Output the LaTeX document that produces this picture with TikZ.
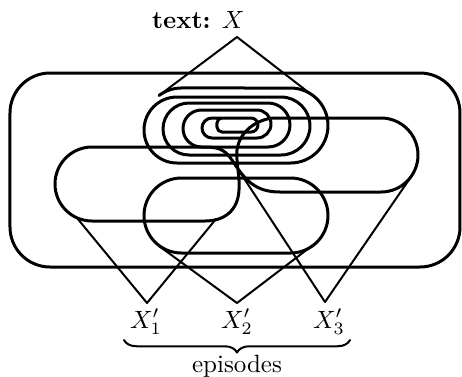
\documentclass[tikz,border=0pt]{standalone}
\usetikzlibrary{decorations.pathreplacing}
\begin{document}
\begin{tikzpicture}[x=0.4pt,y=0.4pt,line join=round,line cap=round,
  curve/.style={line width=1.2pt},
  cone/.style={line width=0.8pt},
  lbl/.style={inner sep=0pt,anchor=base},
  bracestyle/.style={line width=0.8pt,decorate,decoration={brace,mirror,amplitude=5pt}}]
\useasboundingbox (0,0) rectangle (462,376);

% outer frame
\draw[curve,rounded corners=16pt] (10,109) rectangle (460,303);

% spiral
\draw[curve] (159,280.5) arc[start angle=126.9,end angle=90,radius=37.5]
 -- (290.5,288) arc[start angle=90,end angle=-90,radius=37.5]
 -- (177,213) arc[start angle=-90,end angle=-270,radius=33]
 -- (281,279) arc[start angle=90,end angle=-90,radius=29]
 -- (189,221) arc[start angle=-90,end angle=-270,radius=26]
 -- (268,273) arc[start angle=90,end angle=-90,radius=22]
 -- (201.5,229) arc[start angle=-90,end angle=-270,radius=18.5]
 -- (257,266) arc[start angle=90,end angle=-90,radius=14]
 -- (212,238) arc[start angle=-90,end angle=-270,radius=10]
 -- (251,258) arc[start angle=90,end angle=-90,radius=7]
 -- (222,244) arc[start angle=-90,end angle=-180,radius=5]
 -- (217,253) arc[start angle=180,end angle=90,radius=5];

% left and right episodes (one twisted closed curve)
\draw[curve] (92,229) -- (205,229) .. controls (222,229) and (226,224) .. (232,216)
  .. controls (245,196) and (255,184) .. (280,184) -- (381,184)
  arc[start angle=-90,end angle=90,radius=37]
  -- (275,258) .. controls (262,258) and (240,248) .. (237,226)
  .. controls (236,211) and (240,201) .. (239,186)
  .. controls (238,166) and (225,155) .. (205,155) -- (92,155)
  arc[start angle=-90,end angle=-270,radius=37] -- cycle;

% middle episode
\draw[curve] (181.5,198) -- (290.5,198) arc[start angle=90,end angle=-90,radius=37.5]
  -- (181.5,123) arc[start angle=-90,end angle=-270,radius=37.5] -- cycle;

% apexes and tangent points
\coordinate (top) at (237,339);
\coordinate (tl) at (159,280.5);
\coordinate (tr) at (314,279.4);
\coordinate (a1) at (147,73);
\coordinate (a1l) at (77,158);
\coordinate (a1r) at (216,157);
\coordinate (a2) at (237,73);
\coordinate (a2l) at (159,130);
\coordinate (a2r) at (313,131);
\coordinate (a3) at (325,74);
\coordinate (a3l) at (232,216);
\coordinate (a3r) at (411.6,200);

% cones
\draw[cone] (tl) -- (top) -- (tr);
\draw[cone] (a1l) -- (a1) -- (a1r);
\draw[cone] (a2l) -- (a2) -- (a2r);
\draw[cone] (a3l) -- (a3) -- (a3r);

% labels
\node[lbl,anchor=base east] (title) at (245,348) {\textbf{text:} $X$};
\node[lbl] (x1) at (146,48) {$X'_1$};
\node[lbl] (x2) at (237,48) {$X'_2$};
\node[lbl] (x3) at (329,48) {$X'_3$};
\coordinate (bl) at (124,36);
\coordinate (br) at (350,36);
\draw[bracestyle] (bl) -- (br);
\node[lbl] (ep) at (237,4) {episodes};
\end{tikzpicture}
\end{document}
